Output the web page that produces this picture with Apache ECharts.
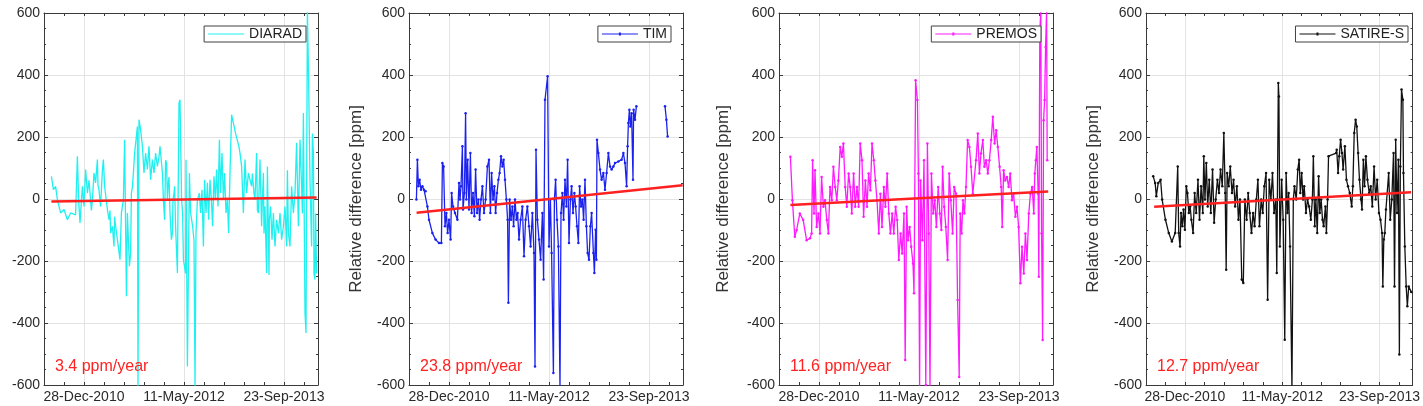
<!DOCTYPE html>
<html>
<head>
<meta charset="utf-8">
<script src="https://cdn.jsdelivr.net/npm/echarts@6/dist/echarts.min.js"></script>
<style>
  html, body { margin: 0; padding: 0; background: #fff; }
  #chart { width: 1423px; height: 406px; }
</style>
</head>
<body>
<div id="chart"></div>
<script>
// x values are days since 28-Dec-2010
const xTickDays = [0, 500, 1000];
const xTickLabels = ['28-Dec-2010', '11-May-2012', '23-Sep-2013'];

const diaradDays = [-163, -153, -142, -133, -117, -100, -83, -67, -42, -33, -27, -20, -8, 0, 8, 13, 17, 25, 33, 37, 42, 50, 58, 67, 70, 75, 83, 92, 97, 103, 117, 125, 130, 133, 142, 150, 153, 158, 167, 180, 187, 197, 203, 212, 217, 227, 233, 237, 242, 247, 253, 267, 270, 275, 283, 292, 300, 308, 317, 325, 333, 342, 350, 358, 367, 375, 380, 392, 397, 403, 408, 413, 417, 420, 425, 430, 437, 442, 445, 450, 453, 458, 467, 475, 480, 488, 493, 497, 508, 510, 517, 527, 533, 543, 550, 555, 560, 567, 577, 583, 590, 597, 603, 610, 617, 623, 630, 637, 643, 650, 657, 663, 670, 677, 683, 690, 697, 703, 710, 717, 723, 730, 738, 758, 775, 780, 788, 797, 805, 813, 822, 830, 838, 842, 850, 855, 863, 867, 872, 880, 888, 892, 897, 900, 905, 913, 917, 925, 927, 933, 940, 947, 955, 963, 967, 972, 980, 988, 992, 997, 1005, 1013, 1017, 1022, 1030, 1038, 1042, 1047, 1055, 1063, 1067, 1072, 1080, 1088, 1092, 1097, 1105, 1110, 1117, 1123, 1130, 1138, 1142, 1147, 1150, 1155, 1158, 1163];
const diaradValues = [73, 30, 41, -2, -45, -34, -67, -45, -51, 138, -2, -77, 41, -24, 95, 93, 19, 60, 62, -37, -2, 84, 52, 127, 44, 30, -24, 93, 127, 41, -34, -67, -37, -110, -88, -153, -57, -88, -131, -196, -45, -2, 191, -314, -45, -217, -176, 19, 39, 84, 148, 234, -610, 256, 224, 170, 84, 148, 95, 170, 62, 127, 84, 148, 105, 136, 170, 84, -2, -67, 125, 116, 0, 41, 71, -45, -131, -111, -2, 17, 41, -90, -239, 310, 320, -2, -47, -196, -240, 127, -540, 84, -45, -88, -133, -610, -110, -2, 19, -45, 30, -153, 62, -45, 52, -67, 62, -2, -88, 73, -2, 95, -24, 191, 19, 148, -2, 84, -45, -2, -110, 84, 272, 211, 168, 148, 105, -45, 127, 19, 84, 62, 41, 82, 17, -2, 148, -37, -45, 127, -88, 0, 84, -111, -24, -239, 105, -245, -67, -24, -131, -45, -153, -67, -68, -110, -45, -131, -133, -88, -24, -153, 93, -110, -153, 41, 0, -45, 19, 181, 179, -88, 191, 41, -47, 277, -368, -432, 610, 385, 62, -153, 211, 148, -240, -260, -47, -240];

const timDays = [-163, -158, -153, -147, -140, -133, -125, -117, -108, -100, -83, -67, -50, -38, -33, -27, -20, -13, -7, 0, 8, 13, 20, 30, 42, 50, 55, 60, 67, 70, 77, 83, 87, 93, 100, 107, 113, 120, 127, 133, 140, 147, 153, 160, 167, 175, 183, 192, 200, 207, 213, 220, 227, 233, 240, 247, 253, 260, 267, 273, 280, 287, 293, 297, 303, 310, 317, 323, 330, 337, 343, 350, 358, 367, 375, 383, 392, 400, 408, 417, 425, 430, 435, 442, 450, 458, 467, 473, 480, 493, 500, 507, 513, 522, 527, 533, 540, 547, 555, 560, 567, 573, 580, 587, 593, 600, 607, 613, 620, 627, 633, 640, 647, 653, 660, 667, 673, 680, 687, 693, 700, 707, 713, 722, 727, 733, 737, 740, 747, 755, 763, 772, 780, 788, 797, 805, 813, 822, 830, 847, 863, 872, 880, 888, 893, 897, 902, 907, 913, 920, 923, 930, 937, 1010, 1080, 1087, 1093];
const timValues = [-2, 127, 41, 62, 30, 41, 30, 25, -24, -67, -110, -131, -142, -142, 116, 105, -88, -45, -110, -67, -131, 19, -24, -45, -67, 52, -2, 41, 170, -34, 19, 277, -2, 127, -34, 148, -45, 19, -56, 95, -45, -2, -67, -2, 41, -45, -2, 105, 127, -45, 84, -2, 41, -45, 19, 62, 84, 138, 105, 127, 62, -2, -67, -335, -2, -67, -24, -88, -2, -67, -45, -131, -67, -24, -185, -67, -24, -88, -153, -45, -174, -540, 159, -67, -131, -196, -45, -260, 320, 396, -153, -2, -174, -561, -2, 62, -67, -153, -610, -45, 19, -67, 62, -24, 127, -142, -2, 41, -45, 19, -24, -88, -142, 41, -24, -2, -67, 62, -88, -174, -196, -88, -45, -174, -239, -99, -196, 191, 148, 95, 62, 84, 30, 84, 148, 105, 95, 105, 116, 121, 127, 148, 116, 41, 170, 245, 288, 234, 277, 62, 288, 256, 299, null, 299, 256, 202];

const premosDays = [-143, -133, -121, -112, -96, -79, -62, -45, -37, -32, -25, -20, -12, -3, 5, 13, 22, 30, 39, 47, 55, 64, 72, 81, 89, 97, 106, 114, 122, 131, 139, 148, 156, 164, 173, 181, 190, 198, 206, 215, 223, 232, 240, 248, 257, 265, 274, 282, 290, 299, 307, 315, 324, 332, 341, 349, 357, 366, 374, 383, 391, 399, 408, 416, 425, 431, 438, 445, 453, 461, 470, 475, 483, 492, 497, 503, 508, 517, 525, 534, 542, 549, 555, 562, 571, 579, 587, 596, 604, 612, 618, 626, 634, 643, 651, 659, 668, 676, 685, 693, 701, 706, 713, 720, 727, 735, 743, 752, 760, 769, 785, 794, 802, 810, 819, 827, 836, 844, 852, 861, 869, 878, 886, 894, 903, 911, 916, 923, 931, 940, 948, 956, 965, 973, 982, 990, 998, 1007, 1015, 1024, 1032, 1040, 1049, 1057, 1066, 1074, 1079, 1084, 1089, 1096, 1099, 1104, 1109, 1113, 1118, 1123, 1128, 1133, 1138, 1141];
const premosValues = [136, -4, -122, -100, -47, -68, -133, -127, -111, 125, -47, 93, -90, -47, -111, 71, -25, -4, -68, -111, 39, -4, 104, 39, -4, 60, 168, 136, 179, 39, -25, 82, 39, -47, 82, -25, 39, -25, 179, 125, -57, 60, -25, 82, 28, 179, 125, 60, -4, -111, 17, -90, 39, -25, 82, -47, -111, -47, -111, -25, -68, -197, -111, -176, -47, -519, -25, -133, -90, -154, -208, -304, 383, 319, 82, -610, 60, -133, 125, -600, 179, -111, -610, 82, -47, -4, -90, 39, -47, -100, 104, -25, -90, -197, 82, -4, -111, 39, 17, -326, -574, -47, -111, -4, -47, 39, 190, 168, 104, 17, 125, 211, 82, 147, 190, 104, 125, 82, 125, 190, 265, 179, 222, 168, 104, 39, -90, 93, 60, 71, 39, 82, -4, 17, -57, -25, -90, -272, -154, -240, -111, -197, -47, 17, 39, -47, 82, 125, 168, 17, -251, 533, 610, -111, -455, 254, 319, 490, 610, 125];

const satireDays = [-163, -153, -147, -137, -125, -117, -100, -83, -67, -50, -37, -32, -25, -20, -13, -7, 0, 7, 13, 20, 27, 33, 42, 50, 58, 67, 75, 83, 92, 97, 103, 110, 117, 125, 133, 142, 150, 158, 167, 175, 183, 192, 200, 207, 212, 217, 225, 233, 242, 250, 258, 267, 275, 283, 292, 300, 308, 317, 325, 333, 342, 350, 358, 367, 375, 383, 392, 400, 408, 417, 425, 433, 442, 450, 458, 467, 472, 480, 483, 488, 497, 505, 513, 520, 527, 533, 540, 550, 557, 563, 572, 580, 587, 593, 600, 607, 613, 622, 630, 638, 647, 655, 660, 667, 673, 680, 687, 693, 700, 707, 713, 722, 727, 733, 738, 777, 780, 787, 793, 800, 807, 813, 822, 830, 838, 847, 857, 863, 870, 877, 883, 890, 897, 905, 910, 917, 923, 930, 938, 947, 955, 963, 972, 980, 988, 997, 1005, 1013, 1017, 1022, 1027, 1033, 1047, 1055, 1063, 1072, 1077, 1083, 1090, 1097, 1102, 1107, 1113, 1120, 1123, 1130, 1137, 1143, 1150, 1163];
const satireValues = [73, 52, 9, 52, 62, -2, -67, -110, -137, -110, 105, -110, -153, -45, -88, -34, -99, 41, 19, -45, -24, -67, -110, 19, -45, 62, -67, 41, -45, 138, -2, 116, -24, 62, -45, 95, -77, -2, 62, 19, 95, 41, 213, 19, -228, 84, 41, 105, 19, 62, -24, 41, -67, -2, -260, -271, -2, -67, 19, -45, -110, -45, -88, -2, 62, -88, -2, -45, 41, 84, -325, 62, -2, 84, -45, -2, -239, 374, 331, -153, 62, -67, -454, 84, -45, 19, -153, -610, -2, 41, -2, 95, 127, 19, 84, -2, 41, -45, -2, -24, -67, -2, 138, -88, -2, -110, 73, -45, -2, -67, -88, -24, -110, -2, 138, 148, 159, 84, 138, 191, 148, 95, 170, 62, 41, 19, -24, 41, 213, 256, 234, 148, 62, -2, -34, 127, 41, 138, 62, 19, 41, -24, 105, -2, 62, -45, -67, -110, -282, -131, -110, -34, 84, -67, -2, 148, -282, 191, -45, 127, -502, 105, 353, 320, 84, -153, -282, -346, -282, -300];

// fitted trends: start/end of each red line
const diaradTrendDays = [-163, 1163];
const diaradTrendValues = [-8, 5];
const timTrendDays = [-162, 1168];
const timTrendValues = [-44, 44];
const premosTrendDays = [-143, 1146];
const premosTrendValues = [-19, 24];
const satireTrendDays = [-158, 1162];
const satireTrendValues = [-25, 22];

const rateLabels = ['3.4 ppm/year', '23.8 ppm/year', '11.6 ppm/year', '12.7 ppm/year'];

const FONT = 'Liberation Sans, Arial, Helvetica, sans-serif';
const X_MIN = -200, X_MAX = 1170;
const PLOT_W = 274, PLOT_TOP = 13, PLOT_H = 372;
const AXIS_COLOR = '#3a3a3a';
const GRID_COLOR = '#e3e3e3';
// legend glyphs: plain line, and line with a small dot marker
const ICON_LINE = 'path://M0,1H36V2H0Z';
const ICON_DOT = 'path://M0,1H36V2H0Z M17,0H19V3H17Z';

const panels = [
  { name: 'DIARAD', days: diaradDays, values: diaradValues, tDays: diaradTrendDays, tValues: diaradTrendValues, color: '#1ff0f0', dots: false, left: 44, yName: '', nameGap: 44 },
  { name: 'TIM', days: timDays, values: timValues, tDays: timTrendDays, tValues: timTrendValues, color: '#1c22ee', dots: true, left: 409, yName: 'Relative difference [ppm]', nameGap: 44 },
  { name: 'PREMOS', days: premosDays, values: premosValues, tDays: premosTrendDays, tValues: premosTrendValues, color: '#ff1aff', dots: true, left: 779, yName: 'Relative difference [ppm]', nameGap: 47 },
  { name: 'SATIRE-S', days: satireDays, values: satireValues, tDays: satireTrendDays, tValues: satireTrendValues, color: '#111111', dots: true, left: 1146, yName: 'Relative difference [ppm]', nameGap: 44 }
];

function zip(xs, ys) {
  return xs.map((x, i) => [x, ys[i] === null ? '-' : ys[i]]);
}

function xLabel(v) {
  const k = xTickDays.indexOf(v);
  return k >= 0 ? xTickLabels[k] : '';
}

const grid = [], xAxis = [], yAxis = [], series = [], legend = [], title = [];

panels.forEach((p, i) => {
  grid.push({ left: p.left, top: PLOT_TOP, width: PLOT_W, height: PLOT_H, containLabel: false });

  const axisLine = { show: true, onZero: false, lineStyle: { color: AXIS_COLOR, width: 1 } };
  const xBase = {
    type: 'value', gridIndex: i, min: X_MIN, max: X_MAX, interval: 100,
    axisLine, axisTick: { show: true, inside: true, length: 3, lineStyle: { color: AXIS_COLOR } }
  };
  // only every fifth tick (0, 500, 1000) gets a grid line
  xAxis.push(Object.assign({}, xBase, {
    position: 'bottom',
    axisLabel: { formatter: xLabel, fontSize: 14, color: '#2a2a2a', fontFamily: FONT, margin: 5 },
    splitLine: { show: true, lineStyle: { color: ['transparent', 'transparent', GRID_COLOR, 'transparent', 'transparent'], width: 1 } }
  }));
  xAxis.push(Object.assign({}, xBase, {
    position: 'top', axisLabel: { show: false }, splitLine: { show: false }
  }));

  const yBase = {
    type: 'value', gridIndex: i, min: -600, max: 600, interval: 200,
    axisLine,
    axisTick: { show: true, inside: true, length: 4, lineStyle: { color: AXIS_COLOR } },
    minorTick: { show: true, splitNumber: 4, length: 2, lineStyle: { color: AXIS_COLOR } }
  };
  yAxis.push(Object.assign({}, yBase, {
    position: 'left',
    name: p.yName, nameLocation: 'middle', nameGap: p.nameGap, nameRotate: 90,
    nameTextStyle: { fontSize: 17, color: '#333', fontFamily: FONT },
    axisLabel: { fontSize: 14, color: '#2a2a2a', fontFamily: FONT, margin: 4 },
    splitLine: { show: true, lineStyle: { color: GRID_COLOR, width: 1 } }
  }));
  yAxis.push(Object.assign({}, yBase, {
    position: 'right', axisLabel: { show: false }, splitLine: { show: false }
  }));

  series.push({
    name: p.name, type: 'line',
    xAxisIndex: 2 * i, yAxisIndex: 2 * i,
    data: zip(p.days, p.values),
    symbol: p.dots ? 'circle' : 'none', symbolSize: 2.5, showSymbol: p.dots,
    itemStyle: { color: p.color },
    lineStyle: { color: p.color, width: 1.3 },
    connectNulls: false, clip: true, animation: false, z: 2
  });
  series.push({
    name: p.name + ' trend', type: 'line',
    xAxisIndex: 2 * i, yAxisIndex: 2 * i,
    data: zip(p.tDays, p.tValues),
    symbol: 'none', lineStyle: { color: '#ff2020', width: 2.5 },
    animation: false, z: 3, silent: true
  });

  legend.push({
    data: [{ name: p.name, icon: p.dots ? ICON_DOT : ICON_LINE }],
    top: 26, right: 1423 - (p.left + PLOT_W) + 12,
    orient: 'horizontal', backgroundColor: '#fff',
    borderColor: '#404040', borderWidth: 1, borderRadius: 0, padding: [1, 4, 1, 4],
    itemWidth: 36, itemHeight: 3, itemGap: 0,
    textStyle: { fontSize: 14, color: '#222', fontFamily: FONT }
  });

  title.push({
    text: rateLabels[i], left: p.left + 11, top: 359, padding: 0,
    textStyle: { color: '#ff2222', fontSize: 16, fontWeight: 'normal', fontFamily: FONT }
  });
});

const chart = echarts.init(document.getElementById('chart'), null, { renderer: 'canvas' });
chart.setOption({
  backgroundColor: '#ffffff',
  animation: false,
  textStyle: { fontFamily: FONT },
  title, legend, grid, xAxis, yAxis, series
});
</script>
</body>
</html>
